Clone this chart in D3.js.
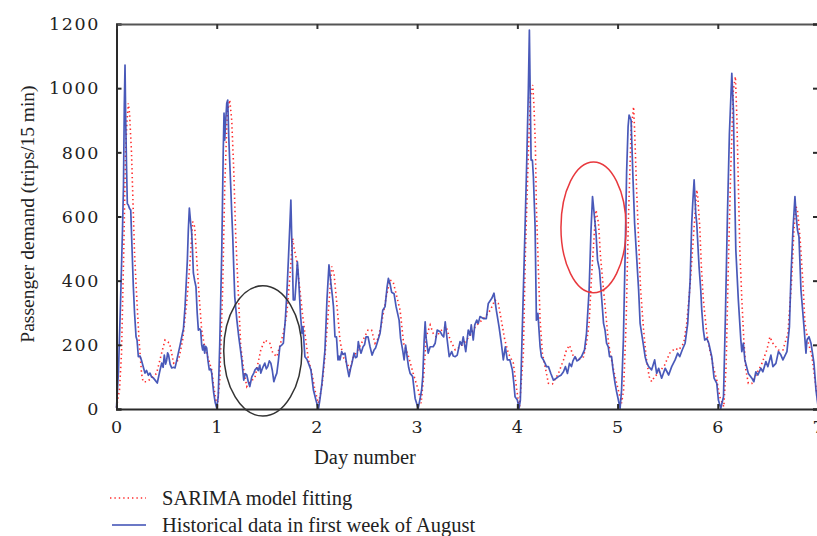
<!DOCTYPE html>
<html>
<head>
<meta charset="utf-8">
<script src="https://cdn.jsdelivr.net/npm/d3@7"></script>
<style>
  html, body { margin: 0; padding: 0; background: #fff; }
  svg { display: block; }
</style>
</head>
<body>
<svg id="chart" width="817" height="536"></svg>
<script>
// ---------------- DATA ----------------
const xTicks = [0, 1, 2, 3, 4, 5, 6, 7];
const yTicks = [0, 200, 400, 600, 800, 1000, 1200];
const xLabel = "Day number";
const yLabel = "Passenger demand (trips/15 min)";
const seriesNames = ["SARIMA model fitting", "Historical data in first week of August"];

// [day, trips per 15 min]
const historical = [
[0,3],[0.02,120],[0.04,330],[0.06,560],[0.07,700],[0.078,950],[0.085,1072],[0.092,900],[0.1,760],[0.108,640],[0.118,636],[0.13,625],[0.142,620],[0.155,500],[0.168,381],[0.18,300],[0.195,225],[0.205,215],[0.218,163],[0.235,165],[0.251,150],[0.268,130],[0.284,112],[0.3,120],[0.318,105],[0.334,112],[0.35,100],[0.367,97],[0.385,90],[0.407,81],[0.43,115],[0.451,143],[0.465,130],[0.477,168],[0.49,140],[0.501,153],[0.51,175],[0.52,168],[0.535,140],[0.551,128],[0.57,130],[0.584,128],[0.6,150],[0.617,174],[0.635,200],[0.651,225],[0.668,250],[0.684,319],[0.697,400],[0.707,464],[0.717,560],[0.727,626],[0.74,580],[0.75,549],[0.758,500],[0.767,424],[0.78,400],[0.793,381],[0.805,300],[0.817,246],[0.83,250],[0.84,245],[0.85,200],[0.86,184],[0.87,200],[0.88,174],[0.89,195],[0.9,190],[0.913,150],[0.926,122],[0.94,125],[0.95,112],[0.96,80],[0.97,50],[0.985,20],[1.0,3],[1.015,38],[1.03,200],[1.05,486],[1.065,800],[1.073,922],[1.08,838],[1.09,900],[1.1,953],[1.11,963],[1.12,849],[1.13,770],[1.14,693],[1.15,610],[1.16,537],[1.17,440],[1.18,350],[1.2,280],[1.22,225],[1.235,190],[1.25,153],[1.26,120],[1.27,90],[1.285,110],[1.3,106],[1.315,85],[1.33,70],[1.35,100],[1.37,112],[1.382,122],[1.4,128],[1.415,120],[1.43,137],[1.44,112],[1.46,130],[1.48,143],[1.495,125],[1.51,133],[1.525,150],[1.54,143],[1.555,120],[1.57,85],[1.585,100],[1.6,112],[1.615,150],[1.63,194],[1.65,200],[1.665,205],[1.685,280],[1.7,361],[1.715,464],[1.728,560],[1.74,651],[1.748,540],[1.755,464],[1.764,340],[1.78,340],[1.793,400],[1.805,459],[1.812,430],[1.82,390],[1.835,300],[1.85,236],[1.86,257],[1.87,210],[1.88,163],[1.9,155],[1.915,143],[1.94,122],[1.953,90],[1.965,59],[1.99,28],[2.015,0],[2.03,30],[2.05,80],[2.065,130],[2.08,184],[2.09,260],[2.1,340],[2.12,449],[2.13,420],[2.14,390],[2.155,350],[2.165,319],[2.18,225],[2.195,225],[2.21,153],[2.22,165],[2.23,153],[2.247,179],[2.26,170],[2.28,174],[2.3,133],[2.32,101],[2.335,125],[2.35,143],[2.37,174],[2.385,160],[2.4,163],[2.413,210],[2.425,190],[2.44,174],[2.46,194],[2.475,200],[2.49,225],[2.51,225],[2.53,194],[2.55,168],[2.57,184],[2.585,190],[2.6,205],[2.63,236],[2.657,308],[2.68,319],[2.7,380],[2.713,407],[2.73,390],[2.745,364],[2.77,359],[2.79,319],[2.82,277],[2.835,220],[2.855,184],[2.87,153],[2.885,199],[2.9,163],[2.915,130],[2.93,111],[2.955,101],[2.97,60],[2.98,33],[3.01,2],[3.03,33],[3.045,60],[3.056,101],[3.07,215],[3.08,272],[3.09,220],[3.11,174],[3.13,194],[3.16,194],[3.18,205],[3.2,246],[3.23,241],[3.25,230],[3.265,225],[3.28,272],[3.3,215],[3.32,163],[3.345,179],[3.36,165],[3.38,163],[3.4,168],[3.428,210],[3.445,199],[3.46,225],[3.485,179],[3.51,246],[3.527,230],[3.54,262],[3.56,215],[3.575,262],[3.595,277],[3.61,267],[3.627,288],[3.66,282],[3.69,282],[3.71,329],[3.745,345],[3.767,361],[3.79,308],[3.817,257],[3.84,205],[3.86,153],[3.88,194],[3.9,153],[3.925,153],[3.95,122],[3.965,80],[3.977,38],[4.0,28],[4.017,2],[4.03,28],[4.045,200],[4.06,371],[4.077,568],[4.094,776],[4.11,1000],[4.12,1181],[4.125,1062],[4.137,776],[4.15,776],[4.16,724],[4.177,568],[4.19,277],[4.205,298],[4.227,194],[4.24,163],[4.26,153],[4.277,142],[4.29,132],[4.31,132],[4.335,110],[4.36,90],[4.385,95],[4.41,101],[4.435,105],[4.46,116],[4.48,132],[4.5,111],[4.52,142],[4.54,132],[4.555,150],[4.576,163],[4.595,150],[4.61,153],[4.64,163],[4.67,184],[4.69,236],[4.716,371],[4.735,558],[4.75,662],[4.76,630],[4.772,590],[4.785,548],[4.8,464],[4.82,433],[4.84,350],[4.86,267],[4.875,246],[4.89,205],[4.907,194],[4.92,163],[4.94,163],[4.955,122],[4.975,80],[4.99,54],[5.008,28],[5.025,2],[5.04,59],[5.058,215],[5.075,475],[5.09,735],[5.105,880],[5.115,916],[5.135,900],[5.152,735],[5.17,579],[5.19,475],[5.21,371],[5.225,267],[5.24,236],[5.255,205],[5.275,163],[5.29,145],[5.31,132],[5.34,122],[5.37,153],[5.39,111],[5.41,127],[5.44,96],[5.475,127],[5.51,106],[5.54,132],[5.574,153],[5.6,174],[5.62,163],[5.645,184],[5.674,205],[5.7,267],[5.724,400],[5.74,579],[5.75,641],[5.764,714],[5.78,610],[5.79,579],[5.813,444],[5.83,371],[5.84,308],[5.856,246],[5.87,215],[5.89,220],[5.91,205],[5.94,163],[5.963,96],[5.99,80],[6.006,28],[6.03,2],[6.057,38],[6.076,288],[6.096,599],[6.116,859],[6.14,1046],[6.156,932],[6.166,724],[6.18,496],[6.205,340],[6.23,215],[6.24,179],[6.255,205],[6.27,153],[6.305,111],[6.34,96],[6.36,85],[6.38,116],[6.4,106],[6.43,127],[6.45,116],[6.48,148],[6.5,132],[6.53,168],[6.55,132],[6.58,142],[6.605,179],[6.63,168],[6.65,153],[6.69,179],[6.715,257],[6.73,412],[6.75,558],[6.77,662],[6.78,610],[6.795,558],[6.81,537],[6.83,371],[6.86,257],[6.88,174],[6.89,215],[6.91,225],[6.93,205],[6.96,142],[6.98,59],[7.0,10]
];

// [day, trips per 15 min]
const sarima = [
[0,5],[0.03,60],[0.05,174],[0.072,485],[0.09,797],[0.105,900],[0.118,953],[0.13,922],[0.15,797],[0.165,640],[0.18,485],[0.205,329],[0.225,215],[0.25,111],[0.265,85],[0.3,85],[0.35,96],[0.4,111],[0.45,174],[0.484,215],[0.53,205],[0.57,143],[0.62,153],[0.66,215],[0.7,329],[0.735,464],[0.76,584],[0.78,568],[0.797,485],[0.825,350],[0.85,246],[0.88,194],[0.91,163],[0.95,122],[0.97,70],[1.005,5],[1.03,90],[1.06,381],[1.08,693],[1.105,922],[1.13,963],[1.15,900],[1.17,745],[1.19,537],[1.22,329],[1.24,194],[1.27,122],[1.3,70],[1.33,85],[1.38,96],[1.44,184],[1.48,215],[1.53,205],[1.56,174],[1.6,163],[1.665,236],[1.7,298],[1.73,412],[1.758,532],[1.77,505],[1.8,459],[1.83,371],[1.855,298],[1.88,236],[1.915,153],[1.95,112],[1.98,59],[2.015,18],[2.05,70],[2.08,163],[2.115,308],[2.147,444],[2.17,423],[2.195,340],[2.23,215],[2.26,163],[2.3,143],[2.33,122],[2.365,163],[2.41,184],[2.46,215],[2.51,246],[2.545,246],[2.58,205],[2.61,220],[2.645,267],[2.695,355],[2.73,402],[2.76,397],[2.79,359],[2.83,308],[2.865,205],[2.915,163],[2.96,112],[3.01,60],[3.04,18],[3.07,122],[3.09,225],[3.13,262],[3.16,236],[3.19,225],[3.23,241],[3.26,251],[3.29,257],[3.33,215],[3.38,184],[3.43,194],[3.48,210],[3.53,230],[3.58,257],[3.63,272],[3.68,288],[3.73,308],[3.777,340],[3.81,329],[3.84,277],[3.875,215],[3.91,174],[3.96,143],[3.99,70],[4.02,2],[4.06,174],[4.08,485],[4.11,797],[4.13,974],[4.154,1010],[4.166,942],[4.18,818],[4.19,630],[4.21,433],[4.227,277],[4.25,174],[4.29,111],[4.31,80],[4.35,78],[4.41,111],[4.46,153],[4.49,184],[4.52,199],[4.56,163],[4.61,153],[4.66,163],[4.69,205],[4.716,267],[4.74,412],[4.77,558],[4.785,620],[4.81,579],[4.83,475],[4.86,371],[4.885,288],[4.91,205],[4.94,153],[4.975,101],[5.015,49],[5.04,18],[5.06,59],[5.085,267],[5.107,579],[5.135,870],[5.16,942],[5.17,870],[5.19,683],[5.21,527],[5.23,371],[5.26,246],[5.285,163],[5.315,101],[5.34,85],[5.37,101],[5.42,116],[5.47,137],[5.52,174],[5.574,189],[5.61,184],[5.66,205],[5.69,267],[5.72,371],[5.757,537],[5.79,683],[5.8,662],[5.82,568],[5.836,444],[5.856,340],[5.89,236],[5.92,184],[5.955,132],[5.99,90],[6.02,38],[6.06,7],[6.083,132],[6.105,444],[6.13,755],[6.155,994],[6.176,1036],[6.19,911],[6.205,703],[6.22,496],[6.24,340],[6.26,215],[6.28,122],[6.305,80],[6.34,80],[6.39,111],[6.44,142],[6.49,184],[6.52,225],[6.55,205],[6.605,184],[6.65,184],[6.7,236],[6.735,392],[6.76,558],[6.78,631],[6.795,620],[6.82,537],[6.85,392],[6.87,267],[6.905,205],[6.94,163],[6.97,90],[7.0,20]
];

// highlighted regions: centre (day, value) and half-extent (days, value)
const highlightCenters = [[1.46, 181], [4.76, 566]];
const highlightRadii = [[0.39, 203], [0.325, 204]];

// ---------------- DRAW ----------------
const svg = d3.select("#chart");
const mLeft = 116.5, mRight = 818, mTop = 24, mBottom = 409;
const x = d3.scaleLinear().domain([0, 7]).range([mLeft, mRight]);
const y = d3.scaleLinear().domain([0, 1200]).range([mBottom, mTop]);

const BLUE = "#3a4bb3", RED = "#ff2d2d";
const serif = "'Liberation Serif', 'Times New Roman', serif";
const tickFont = "'DejaVu Serif', serif";

const line = d3.line().x(d => x(d[0])).y(d => y(d[1]));

// series
svg.append("path").datum(sarima)
  .attr("d", line).attr("fill", "none")
  .attr("stroke", RED).attr("stroke-width", 1.6)
  .attr("stroke-dasharray", "1.4,3").attr("stroke-linecap", "butt");
svg.append("path").datum(historical)
  .attr("d", line).attr("fill", "none")
  .attr("stroke", BLUE).attr("stroke-width", 1.7).attr("stroke-opacity", 0.92)
  .attr("stroke-linejoin", "round");

// axes
const axL = svg.append("g").attr("transform", `translate(${mLeft},0)`)
  .call(d3.axisRight(y).tickValues(yTicks).tickSize(5).tickFormat(""));
const axT = svg.append("g").attr("transform", `translate(0,${mTop})`)
  .call(d3.axisBottom(x).tickValues(xTicks).tickSize(5).tickFormat(""));
const axB = svg.append("g").attr("transform", `translate(0,${mBottom})`)
  .call(d3.axisTop(x).tickValues(xTicks).tickSize(5).tickFormat(""));
const axR = svg.append("g").attr("transform", `translate(${mRight},0)`)
  .call(d3.axisLeft(y).tickValues(yTicks).tickSize(5).tickFormat(""));
[axL, axT, axB, axR].forEach(g => {
  g.select(".domain").attr("stroke", "#2a2a2a").attr("stroke-width", 2);
  g.selectAll(".tick line").attr("stroke", "#2a2a2a").attr("stroke-width", 2);
});
axT.select(".domain").attr("stroke", "#555");
axT.selectAll(".tick line").attr("stroke", "#333");

// tick labels
svg.append("g").selectAll("text").data(yTicks).join("text")
  .attr("x", 100).attr("y", d => y(d)).attr("dy", "0.36em")
  .attr("text-anchor", "end")
  .style("font-family", tickFont).style("font-size", "17.5px")
  .style("letter-spacing", "1.6px").attr("fill", "#222")
  .text(d => d);
svg.append("g").selectAll("text").data(xTicks).join("text")
  .attr("x", d => x(d)).attr("y", 433)
  .attr("text-anchor", "middle")
  .style("font-family", tickFont).style("font-size", "17.5px")
  .attr("fill", "#222")
  .text(d => d);

// axis titles
svg.append("text").attr("x", 365).attr("y", 464)
  .attr("text-anchor", "middle")
  .style("font-family", serif).style("font-size", "20.5px").attr("fill", "#222")
  .text(xLabel);
svg.append("text")
  .attr("transform", `translate(34,214) rotate(-90)`)
  .attr("text-anchor", "middle")
  .style("font-family", serif).style("font-size", "19.5px").attr("fill", "#222")
  .text(yLabel);

// highlight ellipses
const ellColors = ["#333", "#e8383d"];
svg.append("g").selectAll("ellipse").data(highlightCenters).join("ellipse")
  .attr("cx", d => x(d[0])).attr("cy", d => y(d[1]))
  .attr("rx", (d, i) => x(highlightRadii[i][0]) - x(0))
  .attr("ry", (d, i) => y(0) - y(highlightRadii[i][1]))
  .attr("fill", "none")
  .attr("stroke", (d, i) => ellColors[i]).attr("stroke-width", 1.5);

// legend
const lg = svg.append("g");
lg.append("line").attr("x1", 110).attr("x2", 146).attr("y1", 498).attr("y2", 498)
  .attr("stroke", RED).attr("stroke-width", 1.4).attr("stroke-dasharray", "1.4,3");
lg.append("line").attr("x1", 112).attr("x2", 146).attr("y1", 525).attr("y2", 525)
  .attr("stroke", BLUE).attr("stroke-width", 1.6);
lg.append("text").attr("x", 162).attr("y", 505)
  .style("font-family", serif).style("font-size", "20.5px").attr("fill", "#222")
  .text(seriesNames[0]);
lg.append("text").attr("x", 162).attr("y", 532)
  .style("font-family", serif).style("font-size", "20.5px").attr("fill", "#222")
  .text(seriesNames[1]);
</script>
</body>
</html>
